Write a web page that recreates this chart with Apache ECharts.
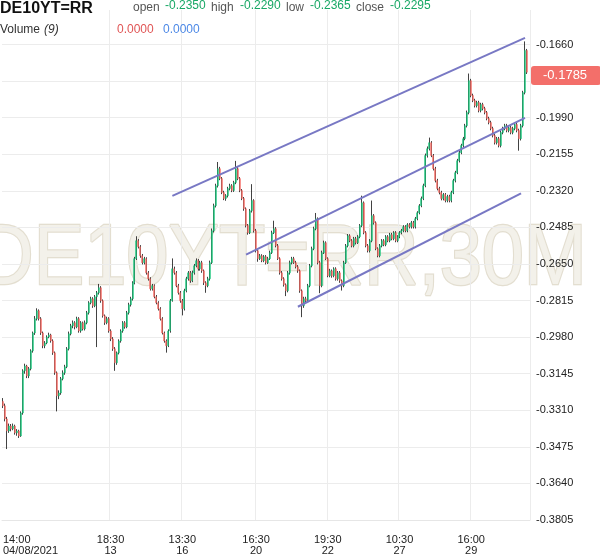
<!DOCTYPE html>
<html><head><meta charset="utf-8">
<script src="https://cdn.jsdelivr.net/npm/echarts@6/dist/echarts.min.js"></script>
<style>html,body{margin:0;padding:0;background:#fff}#c{width:600px;height:558px}</style>
</head><body><div id="c"></div>
<script>
// Prices in units of 0.0001 (yield %), one 30-minute candle per entry
const OPEN = [
-3270,-3290,-3349,-3403,-3381,-3394,-3381,-3412,-3403,-3426,
-3322,-3132,-3110,-3155,-3123,-3042,-2961,-2897,-2861,-2897,
-2961,-3019,-3006,-2979,-2970,-2997,-3051,-3141,-3245,-3232,
-3168,-3141,-3114,-3033,-2965,-2929,-2915,-2934,-2897,-2952,
-2915,-2943,-2915,-2870,-2825,-2807,-2839,-2798,-2780,-2757,
-2816,-2884,-2915,-2897,-2952,-2988,-3033,-3096,-3051,-2997,
-2952,-2915,-2934,-2870,-2834,-2807,-2735,-2626,-2545,-2572,
-2613,-2644,-2626,-2690,-2717,-2762,-2748,-2798,-2825,-2852,
-2897,-2961,-2997,-3019,-2952,-2816,-2672,-2690,-2748,-2780,
-2816,-2852,-2771,-2717,-2690,-2726,-2690,-2658,-2635,-2672,
-2644,-2681,-2735,-2748,-2717,-2644,-2500,-2387,-2297,-2220,
-2265,-2328,-2355,-2342,-2310,-2297,-2319,-2283,-2220,-2265,
-2319,-2355,-2401,-2477,-2509,-2410,-2364,-2500,-2590,-2626,
-2613,-2635,-2617,-2644,-2626,-2599,-2509,-2491,-2568,-2626,
-2690,-2717,-2744,-2771,-2690,-2644,-2626,-2644,-2663,-2681,
-2771,-2839,-2807,-2816,-2748,-2658,-2581,-2491,-2446,-2644,
-2748,-2599,-2554,-2626,-2703,-2681,-2703,-2672,-2717,-2690,
-2726,-2748,-2644,-2568,-2523,-2545,-2568,-2536,-2554,-2527,
-2477,-2374,-2509,-2568,-2590,-2545,-2432,-2464,-2581,-2613,
-2568,-2545,-2563,-2527,-2545,-2518,-2536,-2509,-2545,-2527,
-2509,-2500,-2482,-2500,-2473,-2482,-2464,-2482,-2446,-2419,
-2387,-2355,-2297,-2161,-2130,-2103,-2161,-2220,-2274,-2310,
-2328,-2355,-2337,-2364,-2346,-2364,-2328,-2274,-2238,-2184,
-2148,-2116,-2085,-2026,-1967,-1823,-1890,-1913,-1936,-1922,
-1958,-1931,-1949,-1967,-1994,-2012,-2039,-2071,-2103,-2085,
-2116,-2057,-2039,-2026,-2048,-2035,-2057,-2039,-2021,-2048,
-2085,-2026,-1877,-1687];
const CLOSE = [
-3290,-3349,-3403,-3381,-3394,-3381,-3412,-3403,-3426,-3322,
-3132,-3110,-3155,-3123,-3042,-2961,-2897,-2861,-2897,-2961,
-3019,-3006,-2979,-2970,-2997,-3051,-3141,-3245,-3232,-3168,
-3141,-3114,-3033,-2965,-2929,-2915,-2934,-2897,-2952,-2915,
-2943,-2915,-2870,-2825,-2807,-2839,-2798,-2780,-2757,-2816,
-2884,-2915,-2897,-2952,-2988,-3033,-3096,-3051,-2997,-2952,
-2915,-2934,-2870,-2834,-2807,-2735,-2626,-2545,-2572,-2613,
-2644,-2626,-2690,-2717,-2762,-2748,-2798,-2825,-2852,-2897,
-2961,-2997,-3019,-2952,-2816,-2672,-2690,-2748,-2780,-2816,
-2852,-2771,-2717,-2690,-2726,-2690,-2658,-2635,-2672,-2644,
-2681,-2735,-2748,-2717,-2644,-2500,-2387,-2297,-2220,-2265,
-2328,-2355,-2342,-2310,-2297,-2319,-2283,-2220,-2265,-2319,
-2355,-2401,-2477,-2509,-2410,-2364,-2500,-2590,-2626,-2613,
-2635,-2617,-2644,-2626,-2599,-2509,-2491,-2568,-2626,-2690,
-2717,-2744,-2771,-2690,-2644,-2626,-2644,-2663,-2681,-2771,
-2839,-2807,-2816,-2748,-2658,-2581,-2491,-2446,-2644,-2748,
-2599,-2554,-2626,-2703,-2681,-2703,-2672,-2717,-2690,-2726,
-2748,-2644,-2568,-2523,-2545,-2568,-2536,-2554,-2527,-2477,
-2374,-2509,-2568,-2590,-2545,-2432,-2464,-2581,-2613,-2568,
-2545,-2563,-2527,-2545,-2518,-2536,-2509,-2545,-2527,-2509,
-2500,-2482,-2500,-2473,-2482,-2464,-2482,-2446,-2419,-2387,
-2355,-2297,-2161,-2130,-2103,-2161,-2220,-2274,-2310,-2328,
-2355,-2337,-2364,-2346,-2364,-2328,-2274,-2238,-2184,-2148,
-2116,-2085,-2026,-1967,-1823,-1890,-1913,-1936,-1922,-1958,
-1931,-1949,-1967,-1994,-2012,-2039,-2071,-2103,-2085,-2116,
-2057,-2039,-2026,-2048,-2035,-2057,-2039,-2021,-2048,-2085,
-2026,-1877,-1687,-1785];
const HIGH = [
-3255,-3280,-3340,-3370,-3372,-3370,-3375,-3395,-3398,-3315,
-3125,-3100,-3105,-3115,-3035,-2955,-2885,-2850,-2855,-2890,
-2955,-2998,-2972,-2960,-2965,-2990,-3045,-3135,-3220,-3160,
-3130,-3105,-3025,-2955,-2920,-2905,-2908,-2888,-2890,-2908,
-2910,-2905,-2862,-2818,-2798,-2800,-2790,-2772,-2740,-2750,
-2810,-2878,-2888,-2890,-2945,-2980,-3025,-3045,-2990,-2945,
-2908,-2908,-2862,-2825,-2798,-2728,-2618,-2525,-2538,-2565,
-2605,-2618,-2620,-2682,-2710,-2740,-2742,-2790,-2818,-2845,
-2890,-2955,-2990,-2945,-2808,-2625,-2662,-2682,-2740,-2772,
-2808,-2762,-2708,-2682,-2682,-2680,-2650,-2625,-2628,-2636,
-2636,-2675,-2728,-2708,-2635,-2490,-2378,-2288,-2190,-2212,
-2258,-2320,-2335,-2302,-2288,-2290,-2275,-2185,-2212,-2258,
-2312,-2348,-2395,-2470,-2402,-2290,-2358,-2492,-2582,-2605,
-2606,-2610,-2610,-2618,-2590,-2500,-2455,-2484,-2560,-2620,
-2682,-2710,-2738,-2682,-2635,-2618,-2618,-2636,-2655,-2675,
-2765,-2798,-2798,-2740,-2650,-2572,-2482,-2420,-2440,-2636,
-2590,-2545,-2548,-2620,-2672,-2675,-2665,-2665,-2682,-2682,
-2720,-2636,-2560,-2515,-2516,-2538,-2528,-2528,-2520,-2470,
-2342,-2368,-2502,-2560,-2538,-2364,-2425,-2458,-2575,-2560,
-2538,-2538,-2520,-2520,-2510,-2510,-2502,-2502,-2520,-2502,
-2492,-2475,-2475,-2466,-2466,-2456,-2456,-2438,-2412,-2380,
-2346,-2288,-2152,-2120,-2080,-2096,-2154,-2212,-2266,-2302,
-2320,-2330,-2330,-2338,-2338,-2320,-2266,-2230,-2176,-2140,
-2108,-2077,-2018,-1958,-1791,-1815,-1882,-1905,-1914,-1914,
-1923,-1923,-1941,-1960,-1986,-2004,-2031,-2063,-2077,-2077,
-2049,-2031,-2018,-2018,-2027,-2027,-2031,-2013,-2013,-2040,
-2018,-1869,-1646,-1680];
const LOW = [
-3300,-3360,-3485,-3412,-3405,-3400,-3420,-3425,-3435,-3430,
-3330,-3145,-3165,-3165,-3130,-3050,-2970,-2905,-2905,-2970,
-3030,-3030,-3012,-2985,-3005,-3060,-3150,-3315,-3260,-3240,
-3175,-3150,-3120,-3040,-2972,-2940,-2945,-2940,-2960,-2960,
-2950,-2950,-2922,-2878,-2832,-2848,-2845,-3025,-2788,-2825,
-2892,-2925,-2922,-2960,-2998,-3042,-3132,-3105,-3058,-3005,
-2960,-2942,-2940,-2878,-2842,-2815,-2742,-2632,-2580,-2622,
-2652,-2652,-2698,-2725,-2770,-2770,-2805,-2832,-2860,-2905,
-2968,-3005,-3050,-3025,-2960,-2820,-2698,-2755,-2788,-2825,
-2882,-2860,-2778,-2725,-2735,-2732,-2698,-2665,-2680,-2680,
-2690,-2745,-2780,-2755,-2725,-2650,-2508,-2395,-2305,-2272,
-2335,-2362,-2365,-2350,-2318,-2326,-2325,-2290,-2272,-2326,
-2362,-2410,-2485,-2518,-2515,-2418,-2508,-2598,-2640,-2632,
-2642,-2642,-2652,-2650,-2632,-2605,-2515,-2575,-2632,-2698,
-2725,-2752,-2795,-2778,-2698,-2652,-2650,-2670,-2690,-2780,
-2890,-2848,-2825,-2822,-2755,-2665,-2588,-2498,-2652,-2782,
-2755,-2605,-2632,-2710,-2710,-2712,-2710,-2725,-2725,-2735,
-2770,-2755,-2650,-2575,-2552,-2575,-2575,-2562,-2560,-2534,
-2484,-2516,-2575,-2598,-2598,-2552,-2472,-2588,-2620,-2620,
-2575,-2570,-2570,-2552,-2552,-2543,-2543,-2552,-2552,-2534,
-2516,-2507,-2507,-2507,-2490,-2490,-2490,-2490,-2453,-2426,
-2394,-2362,-2304,-2170,-2138,-2168,-2228,-2282,-2318,-2336,
-2363,-2363,-2372,-2372,-2372,-2372,-2335,-2282,-2245,-2192,
-2155,-2124,-2092,-2034,-1975,-1898,-1920,-1944,-1944,-1966,
-1966,-1957,-1975,-2002,-2020,-2047,-2079,-2111,-2111,-2124,
-2124,-2065,-2047,-2056,-2056,-2065,-2065,-2047,-2056,-2139,
-2093,-2034,-1885,-1793];
const UNIT = 0.0001;
const SLOTS = 265;

// Axis ticks
const Y_TICKS = [-0.1660,-0.1825,-0.1990,-0.2155,-0.2320,-0.2485,-0.2650,-0.2815,-0.2980,-0.3145,-0.3310,-0.3475,-0.3640,-0.3805];
const X_TICK_IDX = [0, 54, 90, 127, 163, 199, 235];
const X_TICK_TEXT = ['14:00\n04/08/2021','18:30\n13','13:30\n16','16:30\n20','19:30\n22','10:30\n27','16:00\n29'];

// Trend channel lines: [candle index, value]
const CH_TOP = [[85, -0.2343], [262, -0.1630]];
const CH_MID = [[122, -0.2608], [262, -0.1991]];
const CH_BOT = [[148, -0.2843], [260, -0.2332]];
const LAST = -0.1785;

// Header text
const TITLE = 'DE10YT=RR';
const OHLC_LABELS = ['open','high','low','close'];
const OHLC_VALUES = ['-0.2350','-0.2290','-0.2365','-0.2295'];
const VOL_VALUES = ['0.0000','0.0000'];

const cats = Array.from({length: SLOTS}, (_, i) => String(i));
const full = OPEN.map((o, i) => [o*UNIT, CLOSE[i]*UNIT, LOW[i]*UNIT, HIGH[i]*UNIT]);
const bodies = OPEN.map((o, i) => [o*UNIT, CLOSE[i]*UNIT, Math.min(o, CLOSE[i])*UNIT, Math.max(o, CLOSE[i])*UNIT]);

const FONT = 'Arial, "Liberation Sans", sans-serif';
const GREEN = '#16c47a', RED = '#f5675f';
const chart = echarts.init(document.getElementById('c'), null, {renderer: 'canvas'});
const tickSet = new Set(X_TICK_IDX);

const header = [];
header.push({type:'text', left: 0, top: 1, z: 100, style:{text: TITLE, font: 'bold 16px ' + FONT, fill:'#111'}});
const lx = [133, 211, 286, 356], vx = [165, 240, 310, 390];
OHLC_LABELS.forEach((t, i) => {
  header.push({type:'text', left: lx[i], top: 2, z: 100, style:{text: t, font: '12px ' + FONT, fill:'#555'}});
  header.push({type:'text', left: vx[i], top: 0, z: 100, style:{text: OHLC_VALUES[i], font: '12px ' + FONT, fill:'#19a866'}});
});
header.push({type:'text', left: 0, top: 24, z: 100, style:{text: 'Volume ', font: '12px ' + FONT, fill:'#333'}});
header.push({type:'text', left: 44, top: 24, z: 100, style:{text: '(9)', font: 'italic 12px ' + FONT, fill:'#333'}});
header.push({type:'text', left: 117, top: 24, z: 100, style:{text: VOL_VALUES[0], font: '12px ' + FONT, fill:'#e05555'}});
header.push({type:'text', left: 163, top: 24, z: 100, style:{text: VOL_VALUES[1], font: '12px ' + FONT, fill:'#4c88e6'}});
header.push({type:'text', x: 283, y: 260, scaleX: 0.88, z: -1, style:{text: 'DE10YT=RR,30M', font: '86px ' + FONT, fill:'#f3f1ea', stroke:'#e3ded0', lineWidth: 2.5, textAlign:'center', textVerticalAlign:'middle'}});

const chLine = (d) => ({type:'line', data: d, symbol:'none', silent: true, z: 5,
  lineStyle:{color:'#7878c4', width: 2}});

chart.setOption({
  animation: false,
  backgroundColor: '#fff',
  grid: {left: 0, right: 70, top: 10, bottom: 38},
  graphic: header,
  xAxis: {
    type: 'category', data: cats, boundaryGap: true,
    axisLine: {show: true, lineStyle: {color: '#e6e6e6'}},
    axisTick: {show: false},
    splitLine: {show: true, interval: (i) => tickSet.has(i) && i !== 0, lineStyle: {color: '#ececec'}},
    axisLabel: {interval: (i) => tickSet.has(i), formatter: (v, i) => X_TICK_TEXT[X_TICK_IDX.indexOf(i)] || '',
      color: '#222', fontSize: 11, fontFamily: FONT, lineHeight: 11, margin: 14, alignMinLabel: 'left'}
  },
  yAxis: {
    type: 'value', position: 'right', scale: true,
    min: -0.3805, max: -0.3805 + 510 / 2216.8,
    axisLine: {show: false}, axisTick: {show: false, customValues: Y_TICKS},
    splitLine: {show: true, lineStyle: {color: '#ececec'}},
    axisLabel: {customValues: Y_TICKS, formatter: (v) => v.toFixed(4), color: '#222', fontSize: 11, fontFamily: FONT, margin: 6}
  },
  series: [
    {type:'candlestick', data: full, barWidth: 1.2, z: 3,
      itemStyle: {color:'#111', color0:'#111', borderColor:'#111', borderColor0:'#111', borderWidth: 0.8}},
    {type:'candlestick', data: bodies, barWidth: 1.5, z: 4,
      itemStyle: {color: GREEN, color0: RED, borderColor: GREEN, borderColor0: RED, borderWidth: 0.4}},
    {type:'line', data: [], z: 20, clip: false, silent: true,
      markLine: {symbol: 'none', silent: true, animation: false, data: [{yAxis: LAST}],
        lineStyle: {color: 'rgba(0,0,0,0)', width: 1, type: 'solid'},
        label: {show: true, position: 'end', distance: 1, formatter: LAST.toFixed(4),
          color:'#fff', backgroundColor:'#f36f6a', fontSize: 13, fontFamily: FONT, padding: [3, 14, 3, 12], borderRadius: 3}}},
    chLine(CH_TOP), chLine(CH_MID), chLine(CH_BOT)
  ]
});
</script></body></html>
